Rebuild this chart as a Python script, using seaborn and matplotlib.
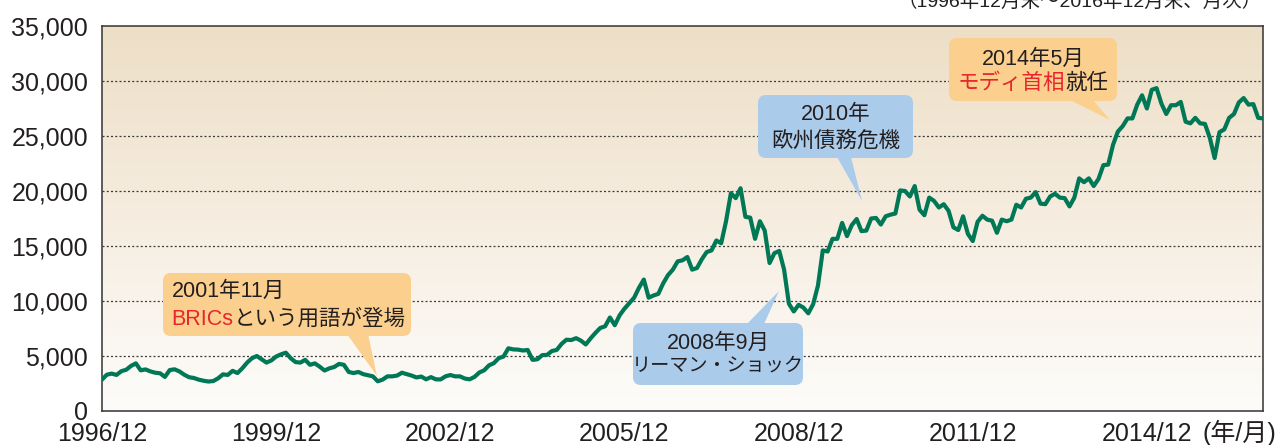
import numpy as np
import pandas as pd
import matplotlib
matplotlib.use("Agg")
import matplotlib.pyplot as plt
import matplotlib.transforms as mtransforms
from matplotlib.patches import FancyBboxPatch, Polygon
from matplotlib.colors import LinearSegmentedColormap
import seaborn as sns

# ---------------- data (month-end index, Dec 1996 .. Dec 2016) ----------------
values_1996_1999 = [2850,
                    3300, 3400, 3280, 3620, 3750, 4100, 4330, 3700, 3780, 3600, 3480, 3430,
                    3100, 3720, 3790, 3600, 3300, 3070, 3000, 2850, 2750, 2680, 2720, 2970,
                    3330, 3280, 3650, 3450, 3880, 4400, 4800, 5000, 4700, 4400, 4600, 4950]
values_2000_2004 = [5150, 5300, 4800, 4450, 4400, 4650, 4200, 4330, 4030, 3680, 3880, 4000,
                    4280, 4200, 3550, 3450, 3550, 3350, 3250, 3150, 2700, 2850, 3150, 3150,
                    3220, 3480, 3350, 3220, 3050, 3130, 2880, 3080, 2880, 2870, 3150, 3270,
                    3150, 3150, 2950, 2880, 3100, 3500, 3700, 4150, 4350, 4800, 4950, 5700,
                    5600, 5580, 5500, 5550, 4650, 4700, 5080, 5100, 5450, 5550, 6100, 6480]
values_2005_2009 = [6450, 6620, 6400, 6050, 6600, 7100, 7550, 7700, 8500, 7800, 8700, 9300,
                    9800, 10300, 11200, 11950, 10300, 10500, 10650, 11600, 12350, 12850, 13600, 13700,
                    14000, 12850, 13000, 13800, 14450, 14600, 15500, 15250, 17250, 19800, 19350, 20250,
                    17650, 17580, 15650, 17250, 16400, 13450, 14350, 14550, 12850, 9750, 9050, 9650,
                    9400, 8880, 9700, 11400, 14600, 14500, 15650, 15650, 17100, 15900, 16900, 17450]
values_2010_2014 = [16350, 16400, 17500, 17550, 16950, 17700, 17850, 17950, 20050, 20000, 19500, 20450,
                    18300, 17800, 19400, 19100, 18500, 18800, 18200, 16700, 16450, 17700, 16100, 15450,
                    17200, 17750, 17400, 17300, 16200, 17400, 17250, 17400, 18750, 18500, 19300, 19400,
                    19900, 18850, 18800, 19500, 19750, 19400, 19350, 18600, 19400, 21150, 20800, 21150,
                    20450, 21100, 22350, 22400, 24200, 25400, 25900, 26600, 26600, 27850, 28700, 27500]
values_2015_2016 = [29200, 29350, 27950, 27000, 27800, 27800, 28100, 26300, 26150, 26650, 26150, 26100,
                    24850, 23000, 25350, 25600, 26650, 27000, 28050, 28450, 27850, 27900, 26650, 26600]

index_values = values_1996_1999 + values_2000_2004 + values_2005_2009 + values_2010_2014 + values_2015_2016
months = list(range(len(index_values)))  # 0 = 1996/12

x_tick_months = [0, 36, 72, 108, 144, 180, 216]
x_tick_labels = ["1996/12", "1999/12", "2002/12", "2005/12", "2008/12", "2011/12", "2014/12"]
y_ticks = [0, 5000, 10000, 15000, 20000, 25000, 30000, 35000]
y_tick_labels = ["0", "5,000", "10,000", "15,000", "20,000", "25,000", "30,000", "35,000"]
period_note = "（1996年12月末～2016年12月末、月次）"
x_unit = "(年/月)"

callout1_lines = [[("2001年11月", "dark")], [("BRICs", "red"), ("という用語が登場", "dark")]]
callout2_lines = [[("2008年9月", "dark")], [("リーマン・ショック", "dark")]]
callout3_lines = [[("2010年", "dark")], [("欧州債務危機", "dark")]]
callout4_lines = [[("2014年5月", "dark")], [("モディ首相", "red"), ("就任", "dark")]]

# ---------------- style ----------------
sns.set_style("white")
plt.rcParams['font.family'] = ['Liberation Sans', 'Noto Sans CJK JP', 'DejaVu Sans']

W, H = 1280, 445
fig = plt.figure(figsize=(W / 100, H / 100), dpi=100)
fig.patch.set_facecolor("white")
ax = fig.add_axes([102 / W, 1 - 411 / H, 1161 / W, 385 / H])

DARK = "#231f20"
RED = "#e8262b"
LINE = "#007856"
ORANGE = "#fbcf8e"
BLUE = "#abcbea"
colmap = {"dark": DARK, "red": RED}

# gradient background
cmap = LinearSegmentedColormap.from_list("bg", ["#fdfcfa", "#f6ede0", "#eddfc6"])
ax.imshow(np.linspace(0, 1, 256).reshape(-1, 1), extent=[0, 240, 0, 35000],
          aspect="auto", cmap=cmap, origin="lower", zorder=0, interpolation="bilinear")

for yv in y_ticks[1:-1]:
    ax.axhline(yv, color="#3a3a3a", lw=0.9, ls=(0, (1.6, 1.8)), zorder=1)

df = pd.DataFrame({"month": months, "value": index_values})
sns.lineplot(data=df, x="month", y="value", color=LINE, linewidth=3.0, ax=ax, zorder=3)

ax.set_xlim(0, 240)
ax.set_ylim(0, 35000)
ax.set_xticks(x_tick_months)
ax.set_xticklabels(x_tick_labels)
ax.set_yticks(y_ticks)
ax.set_yticklabels(y_tick_labels)
ax.set_xlabel("")
ax.set_ylabel("")
ax.tick_params(axis="x", direction="in", length=6, width=0.9, color="#777777",
               labelsize=18, labelcolor=DARK, pad=8)
ax.tick_params(axis="y", length=0, labelsize=18, labelcolor=DARK, pad=10)
for s in ax.spines.values():
    s.set_color("#333333")
    s.set_linewidth(1.1)
    s.set_visible(True)

# pixel transform (y down)
px = mtransforms.Affine2D().scale(1 / W, -1 / H).translate(0, 1) + fig.transFigure

fig.text(1262, 7, period_note, transform=px, ha="right", va="baseline",
         fontsize=14, color=DARK)
fig.text(1276, 433, x_unit, transform=px, ha="right", va="center",
         fontsize=18, color=DARK)

pending = []


def callout(rect, pointer, color, lines, ys, x, ha, sizes):
    bx, by, bw, bh = rect
    box = FancyBboxPatch((bx, by), bw, bh, boxstyle="round,pad=0,rounding_size=8",
                         transform=px, facecolor=color, edgecolor="none", zorder=5)
    fig.add_artist(box)
    tri = Polygon(pointer, closed=True, transform=px, facecolor=color,
                  edgecolor="none", zorder=5)
    fig.add_artist(tri)
    for segs, y, fs in zip(lines, ys, sizes):
        texts = [fig.text(x, y, txt, transform=px, ha="left", va="center",
                          fontsize=fs, color=colmap[c], zorder=6) for txt, c in segs]
        pending.append((texts, x, ha))


callout((163, 273, 248, 63), [(347, 334), (368, 334), (377, 376)], ORANGE,
        callout1_lines, [291.5, 319.5], 171.5, "left", [15.5, 15.5])
callout((633, 323, 170, 62), [(747, 324), (764, 324), (779, 291)], BLUE,
        callout2_lines, [343, 366], 718, "center", [15.5, 13.8])
callout((758, 95, 155, 63), [(837, 157), (851, 157), (862, 201)], BLUE,
        callout3_lines, [114, 141], 835.5, "center", [15.5, 15.5])
callout((949, 38, 168, 63), [(1070, 100), (1093, 100), (1110, 120)], ORANGE,
        callout4_lines, [59, 83], 1033, "center", [15.5, 15.5])

# lay out multi-colour lines side by side
fig.canvas.draw()
r = fig.canvas.get_renderer()
for texts, x, ha in pending:
    widths = [t.get_window_extent(r).width for t in texts]
    start = x - sum(widths) / 2 if ha == "center" else x
    for t, w in zip(texts, widths):
        t.set_x(start)
        start += w

fig.savefig("out.png", dpi=100, facecolor="white")
